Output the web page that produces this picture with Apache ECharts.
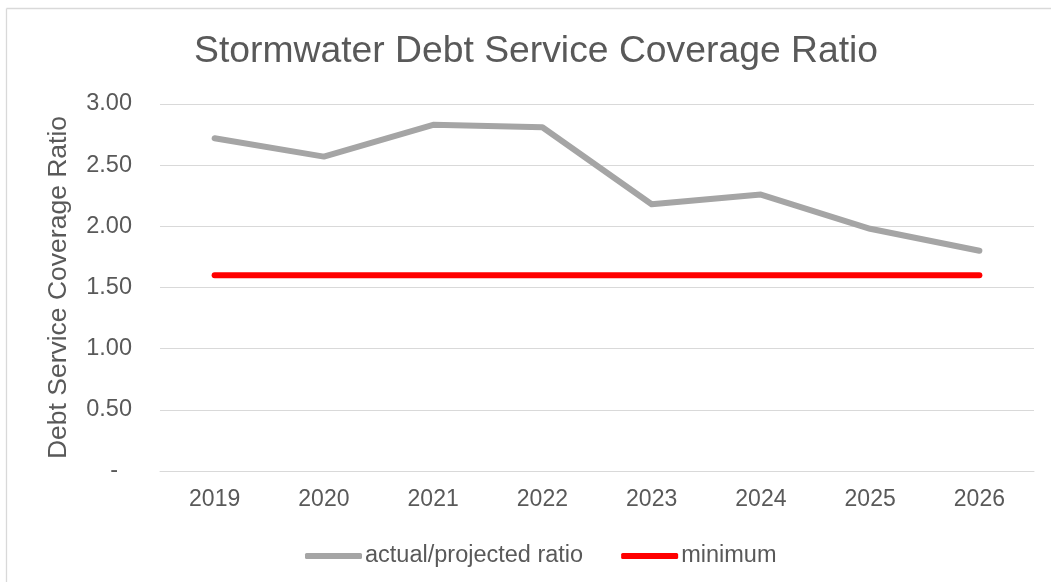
<!DOCTYPE html>
<html>
<head>
<meta charset="utf-8">
<script src="https://cdn.jsdelivr.net/npm/echarts@6/dist/echarts.min.js"></script>
<style>
html,body{margin:0;padding:0;background:#fff;}
#chart{width:1051px;height:582px;}
</style>
</head>
<body>
<div id="chart"></div>
<script>
const titleText = 'Stormwater Debt Service Coverage Ratio';
const yAxisTitle = 'Debt Service Coverage Ratio';
const categories = ['2019','2020','2021','2022','2023','2024','2025','2026'];
const actualRatio = [2.72, 2.57, 2.83, 2.81, 2.18, 2.26, 1.98, 1.80];
const minimumRatio = [1.60, 1.60, 1.60, 1.60, 1.60, 1.60, 1.60, 1.60];
const seriesNames = ['actual/projected ratio', 'minimum'];
const yTickValues = [0, 0.5, 1, 1.5, 2, 2.5, 3];
const yTickLabels = ['-', '0.50', '1.00', '1.50', '2.00', '2.50', '3.00'];

const textColor = '#595959';
const font = 'Liberation Sans, Arial, sans-serif';

const chart = echarts.init(document.getElementById('chart'), null, {renderer: 'canvas'});
chart.setOption({
  backgroundColor: '#ffffff',
  animation: false,
  title: {
    text: titleText,
    left: 189,
    top: 28,
    textStyle: {color: textColor, fontSize: 37.3, fontWeight: 'normal', fontFamily: font}
  },
  grid: {left: 160, right: 17, top: 104, bottom: 111, containLabel: false},
  legend: {
    left: 300,
    top: 539,
    itemWidth: 57,
    itemHeight: 6,
    itemGap: 38,
    icon: 'roundRect',
    textStyle: {color: textColor, fontSize: 23.5, fontFamily: font, padding: [0,0,0,-2]},
    data: seriesNames
  },
  xAxis: {
    type: 'category',
    data: categories,
    boundaryGap: true,
    axisLine: {show: true, lineStyle: {color: '#d9d9d9', width: 1}},
    axisTick: {show: false},
    axisLabel: {color: textColor, fontSize: 23, fontFamily: font, margin: 17}
  },
  yAxis: {
    type: 'value',
    min: 0,
    max: 3,
    interval: 0.5,
    name: yAxisTitle,
    nameLocation: 'middle',
    nameGap: 88,
    nameTextStyle: {color: textColor, fontSize: 26.5, fontFamily: font},
    axisLine: {show: false},
    axisTick: {show: false},
    splitLine: {show: true, lineStyle: {color: '#d9d9d9', width: 1}},
    axisLabel: {
      color: textColor, fontSize: 23.5, fontFamily: font, margin: 28,
      formatter: function (v) {
        const i = yTickValues.findIndex(t => Math.abs(t - v) < 1e-9);
        if (i < 0) return '';
        return v === 0 ? '{dash|' + yTickLabels[i] + '}' : yTickLabels[i];
      },
      rich: {
        dash: {color: textColor, fontSize: 23.5, fontFamily: font, padding: [0, 14, 0, 0]}
      }
    }
  },
  graphic: [
    {type: 'line', shape: {x1: 6.5, y1: 8.5, x2: 1051, y2: 8.5}, style: {stroke: '#d9d9d9', lineWidth: 1.3}, silent: true},
    {type: 'line', shape: {x1: 6.5, y1: 8.5, x2: 6.5, y2: 582}, style: {stroke: '#d9d9d9', lineWidth: 1.3}, silent: true}
  ],
  series: [
    {
      name: seriesNames[0],
      type: 'line',
      data: actualRatio,
      symbol: 'none',
      lineStyle: {color: '#a5a5a5', width: 6, cap: 'round', join: 'round'},
      itemStyle: {color: '#a5a5a5'}
    },
    {
      name: seriesNames[1],
      type: 'line',
      data: minimumRatio,
      symbol: 'none',
      lineStyle: {color: '#ff0000', width: 6, cap: 'round', join: 'round'},
      itemStyle: {color: '#ff0000'}
    }
  ]
});
</script>
</body>
</html>
